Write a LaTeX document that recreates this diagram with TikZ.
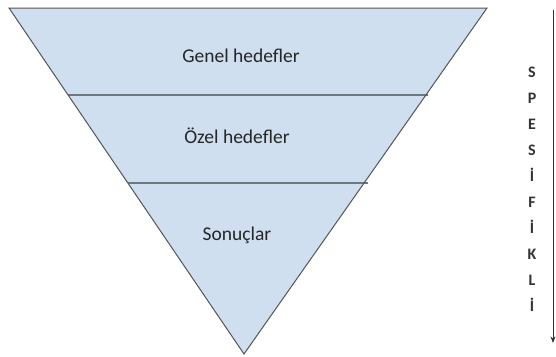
\documentclass[tikz,border=0pt]{standalone}
\usepackage{fontspec}
\setmainfont{Carlito}
\usetikzlibrary{arrows.meta, positioning}
\definecolor{levelblue}{RGB}{207,223,240}
\definecolor{edgegray}{RGB}{85,85,85}
\definecolor{bandgray}{RGB}{110,120,128}

\begin{document}
\begin{tikzpicture}[x=1pt, y=-1pt, >=Stealth,
  level/.style={draw=edgegray, line width=1pt, line join=miter},
  band/.style={draw=bandgray, line width=2.6pt},
  label/.style={font=\fontsize{19.5}{22}\selectfont, anchor=base, inner sep=0pt, text=black!85},
  letter/.style={font=\fontsize{16}{17}\selectfont\bfseries, anchor=base, inner sep=0pt, text=black!80}]
\useasboundingbox (0,0) rectangle (556,356);

\coordinate (tl) at (9,8);
\coordinate (tr) at (487,8);
\coordinate (apex) at (244,354);
\coordinate (l1) at (68,95);
\coordinate (r1) at (428,95);
\coordinate (l2) at (128,183);
\coordinate (r2) at (368,183);

% the three levels
\fill[levelblue] (tl) -- (tr) -- (apex) -- cycle;
\draw[band] (l1) -- (r1);
\draw[band] (l2) -- (r2);
\draw[level] (tl) -- (tr) -- (apex) -- cycle;

\node[label] (genel) at (241,62) {Genel hedefler};
\node[label] (ozel) at (237,143) {Özel hedefler};
\node[label] (sonuc) at (237,240) {Sonuçlar};

% side arrow
\coordinate (atop) at (553,10);
\coordinate (abot) at (553,343);
\draw[->, draw=black!80, line width=0.8pt] (atop) -- (abot);

\foreach \ch [count=\i from 0] in {S,P,E,S,İ,F,İ,K,L,İ}
  \node[letter] (c\i) at (532,{77+26*\i}) {\ch};

\end{tikzpicture}
\end{document}
